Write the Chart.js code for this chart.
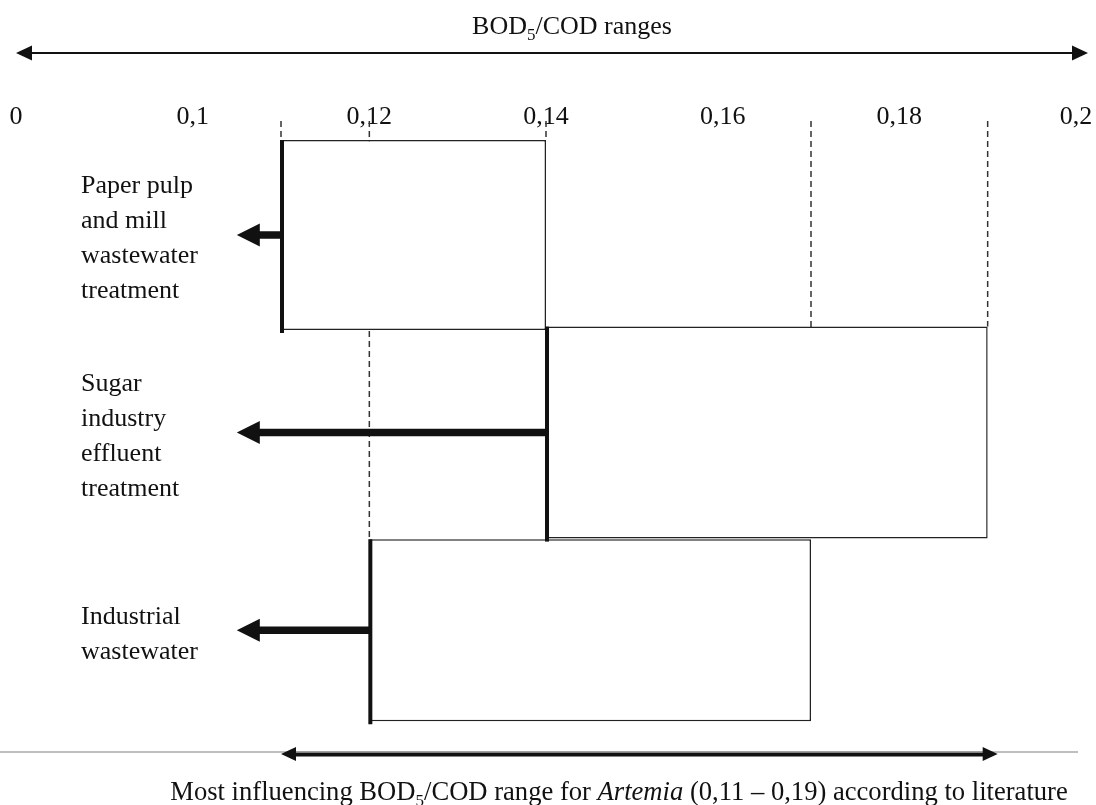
<!DOCTYPE html>
<html>
<head>
<meta charset="utf-8">
<script src="https://cdn.jsdelivr.net/npm/chart.js@4.4.1/dist/chart.umd.min.js"></script>
<style>
  html, body { margin: 0; padding: 0; background: #fff; }
  canvas { display: block; }
</style>
</head>
<body>
<canvas id="chart-bod" width="1096" height="805"></canvas>
<script>
// BOD5/COD ranges per wastewater type

const CATEGORIES = [
    ["Paper pulp", "and mill", "wastewater", "treatment"],
    ["Sugar", "industry", "effluent", "treatment"],
    ["Industrial", "wastewater"],
];
const RANGE_START = [0.11, 0.14, 0.12];
const RANGE_END = [0.14, 0.19, 0.17];
const X_TICKS = [0.08, 0.10, 0.12, 0.14, 0.16, 0.18, 0.20];
const X_TICK_LABELS = ["0", "0,1", "0,12", "0,14", "0,16", "0,18", "0,2"];
const LITERATURE_RANGE = [0.11, 0.19];
const ARROW_TIP = 0.105;

const BAR_THICKNESS = [190, 212, 182];
const FONT = "Liberation Serif";
const INK = "#111";

function fontFor(style, size) {
    if (style === "sub") return Math.round(size * 0.65) + "px '" + FONT + "'";
    if (style === "i") return "italic " + size + "px '" + FONT + "'";
    return size + "px '" + FONT + "'";
}

// text made of runs: [text, "n" | "sub" | "i"]
function drawRich(ctx, parts, cx, baseline, size) {
    const widths = parts.map(([t, s]) => { ctx.font = fontFor(s, size); return ctx.measureText(t).width; });
    let x = cx - widths.reduce((a, b) => a + b, 0) / 2;
    ctx.textAlign = "left";
    ctx.textBaseline = "alphabetic";
    parts.forEach(([t, s], i) => {
        ctx.font = fontFor(s, size);
        ctx.fillText(t, x, s === "sub" ? baseline + size * 0.22 : baseline);
        x += widths[i];
    });
}

function arrowHead(ctx, tipX, y, dir, len, half) {
    ctx.beginPath();
    ctx.moveTo(tipX, y);
    ctx.lineTo(tipX + dir * len, y - half);
    ctx.lineTo(tipX + dir * len, y + half);
    ctx.closePath();
    ctx.fill();
}

const decorPlugin = {
    id: "decor",
    beforeDatasetsDraw(chart) {
        const ctx = chart.ctx;
        const xs = chart.scales.x;
        // dashed guides from the axis down to each bar edge
        const tops = {};
        chart.data.datasets.forEach((ds, i) => {
            const el = chart.getDatasetMeta(i).data[i];
            const top = el.y - el.height / 2;
            [RANGE_START[i], RANGE_END[i]].forEach(v => {
                const k = v.toFixed(3);
                tops[k] = tops[k] === undefined ? top : Math.min(tops[k], top);
            });
        });
        ctx.save();
        ctx.strokeStyle = "#333";
        ctx.lineWidth = 1.5;
        ctx.setLineDash([6, 4]);
        Object.keys(tops).forEach(k => {
            const px = xs.getPixelForValue(parseFloat(k));
            ctx.beginPath();
            ctx.moveTo(px, 121);
            ctx.lineTo(px, tops[k]);
            ctx.stroke();
        });
        ctx.restore();
    },
    afterDatasetsDraw(chart) {
        const ctx = chart.ctx;
        const xs = chart.scales.x;
        const area = chart.chartArea;
        ctx.save();
        ctx.fillStyle = INK;
        ctx.strokeStyle = INK;

        // thick lower bound, arrows out of it, category labels
        const tipX = xs.getPixelForValue(ARROW_TIP);
        chart.data.datasets.forEach((ds, i) => {
            const el = chart.getDatasetMeta(i).data[i];
            const cy = el.y;
            const bx = xs.getPixelForValue(RANGE_START[i]);
            ctx.lineWidth = 4;
            ctx.beginPath();
            ctx.moveTo(bx + 1, cy - el.height / 2);
            ctx.lineTo(bx + 1, cy + el.height / 2 + 3);
            ctx.stroke();

            ctx.lineWidth = 7.5;
            ctx.beginPath();
            ctx.moveTo(bx, cy);
            ctx.lineTo(tipX + 18, cy);
            ctx.stroke();
            arrowHead(ctx, tipX, cy, 1, 23, 11.5);

            const lines = CATEGORIES[i];
            ctx.font = fontFor("n", 26);
            ctx.textAlign = "left";
            ctx.textBaseline = "middle";
            lines.forEach((t, k) => {
                ctx.fillText(t, 81, cy + 4 + (k - (lines.length - 1) / 2) * 35);
            });
        });

        // title + top double arrow
        drawRich(ctx, [["BOD", "n"], ["5", "sub"], ["/COD ranges", "n"]], 572, 34, 26);
        ctx.lineWidth = 2.2;
        ctx.beginPath();
        ctx.moveTo(area.left + 10, 53);
        ctx.lineTo(area.right + 2, 53);
        ctx.stroke();
        arrowHead(ctx, area.left, 53, 1, 16, 7.5);
        arrowHead(ctx, area.right + 12, 53, -1, 16, 7.5);

        // bottom: literature range
        const y0 = 754;
        const lx = xs.getPixelForValue(LITERATURE_RANGE[0]);
        const rx = xs.getPixelForValue(LITERATURE_RANGE[1]) + 10;
        ctx.lineWidth = 5;
        ctx.beginPath();
        ctx.moveTo(lx + 10, y0);
        ctx.lineTo(rx - 10, y0);
        ctx.stroke();
        ctx.strokeStyle = "#aaa";
        ctx.lineWidth = 1.5;
        ctx.beginPath();
        ctx.moveTo(0, y0 - 2);
        ctx.lineTo(area.right + 2, y0 - 2);
        ctx.stroke();
        arrowHead(ctx, lx, y0, 1, 15, 7);
        arrowHead(ctx, rx, y0, -1, 15, 7);

        drawRich(ctx, [
            ["Most influencing BOD", "n"], ["5", "sub"], ["/COD range for ", "n"],
            ["Artemia", "i"], [" (0,11 \u2013 0,19) according to literature", "n"],
        ], 619, 800, 26.6);
        ctx.restore();
    },
};

const ctx = document.getElementById("chart-bod").getContext("2d");

new Chart(ctx, {
    type: "bar",
    data: {
        labels: CATEGORIES,
        datasets: CATEGORIES.map((c, i) => ({
            data: CATEGORIES.map((_, j) => (j === i ? [RANGE_START[i], RANGE_END[i]] : null)),
            backgroundColor: "#fff",
            borderColor: "#222",
            borderWidth: 1.5,
            borderSkipped: false,
            inflateAmount: 0,
            barThickness: BAR_THICKNESS[i],
            grouped: false,
        })),
    },
    options: {
        indexAxis: "y",
        responsive: false,
        animation: false,
        layout: { padding: { top: 99, bottom: 76, left: 16, right: 20 } },
        plugins: {
            legend: { display: false },
            tooltip: { enabled: false },
        },
        scales: {
            x: {
                type: "linear",
                position: "top",
                min: 0.08,
                max: 0.2,
                afterBuildTicks: (scale) => { scale.ticks = X_TICKS.map(v => ({ value: v })); },
                ticks: {
                    callback: (v, i) => X_TICK_LABELS[i],
                    color: INK,
                    padding: 3,
                    maxRotation: 0,
                    autoSkip: false,
                    font: { family: FONT, size: 26 },
                },
                grid: { display: false, drawTicks: false },
                border: { display: false },
            },
            y: {
                display: false,
            },
        },
    },
    plugins: [decorPlugin],
});
</script>
</body>
</html>
